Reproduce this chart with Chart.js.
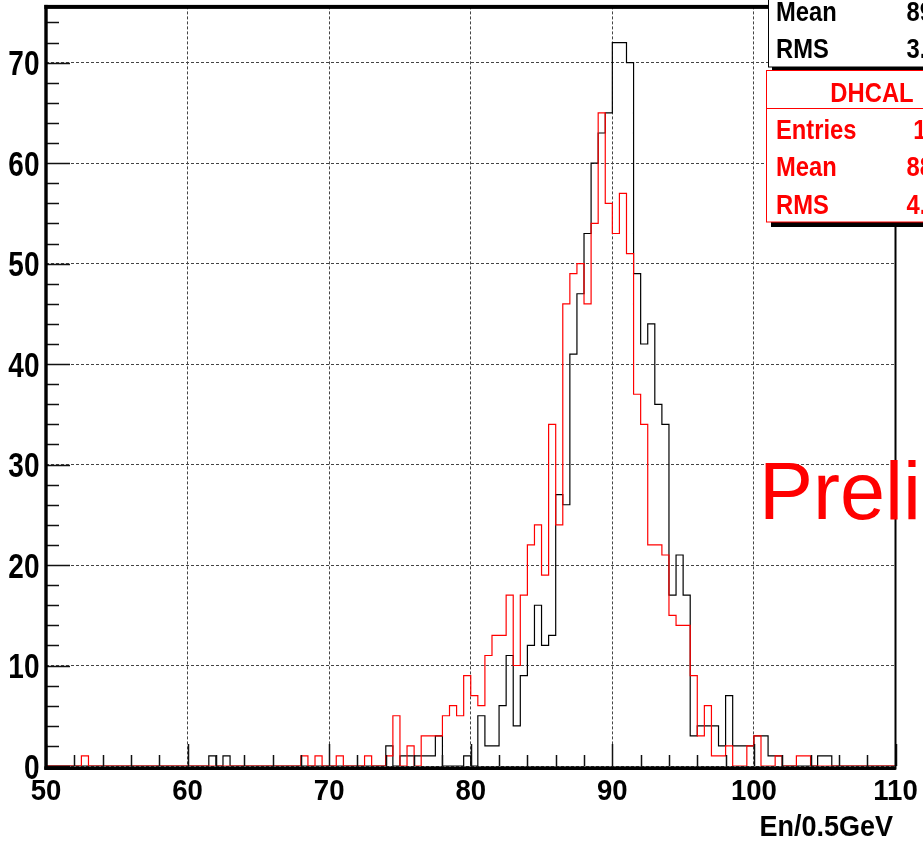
<!DOCTYPE html>
<html>
<head>
<meta charset="utf-8">
<title>En/0.5GeV</title>
<script src="https://cdn.jsdelivr.net/npm/chart.js@4.4.1/dist/chart.umd.min.js"></script>
<style>
  html, body { margin: 0; padding: 0; background: #fff; }
  #histo { display: block; }
</style>
</head>
<body>
<canvas id="histo" width="923" height="844"></canvas>
<script>
// binning: 120 bins of 0.5 from 50 to 110
const binStart = 50;
const binWidth = 0.5;
const xMin = 50;
const xMax = 110;
const yMax = 75.6;

const xTicks = [50, 60, 70, 80, 90, 100, 110];
const yTicks = [0, 10, 20, 30, 40, 50, 60, 70];
const xTitle = "En/0.5GeV";

// black histogram (reference run)
const refCounts = [
  0, 0, 0, 0, 0, 0, 0, 0, 0, 0, 0, 0, 0, 0, 0, 0, 0, 0, 0, 0,
  0, 0, 0, 1, 0, 1, 0, 0, 0, 0, 0, 0, 0, 0, 0, 0, 0, 0, 0, 0,
  0, 0, 0, 0, 0, 0, 0, 0, 2, 0, 1, 1, 1, 1, 1, 3, 0, 0, 0, 1,
  0, 5, 2, 2, 6, 11, 4, 9, 12, 16, 12, 13, 27, 26, 41, 47, 53, 60, 63, 65,
  72, 72, 70, 49, 42, 44, 36, 34, 17, 21, 17, 3, 4, 4, 4, 2, 7, 2, 2, 2,
  3, 3, 1, 1, 0, 0, 0, 0, 0, 1, 1, 0, 0, 0, 0, 0, 0, 0, 0, 0,
];

// red histogram (DHCAL)
const dhcalCounts = [
  0, 0, 0, 0, 0, 1, 0, 0, 0, 0, 0, 0, 0, 0, 0, 0, 0, 0, 0, 0,
  0, 0, 0, 0, 0, 0, 0, 0, 0, 0, 0, 0, 0, 0, 0, 0, 1, 0, 1, 0,
  0, 1, 0, 0, 0, 1, 0, 0, 1, 5, 0, 2, 0, 3, 3, 3, 5, 6, 5, 9,
  7, 6, 11, 13, 13, 17, 10, 17, 22, 24, 19, 34, 24, 46, 49, 50, 46, 54, 65, 56,
  53, 57, 51, 37, 34, 22, 22, 21, 15, 14, 14, 9, 3, 6, 1, 1, 2, 0, 0, 2,
  3, 0, 0, 1, 0, 0, 1, 1, 0, 0, 0, 0, 0, 0, 0, 0, 0, 0, 0, 0,
];

// stats box texts
const refStats = [["Mean", "89.35"], ["RMS", "3.284"]];
const dhcalTitle = "DHCAL";
const dhcalStats = [["Entries", "1000"], ["Mean", "88.37"], ["RMS", "4.612"]];

const sans = '"Liberation Sans", Arial, Helvetica, sans-serif';

// step points: left edge of every bin, plus the closing edge at 110
function toSteps(counts) {
  const pts = counts.map((c, i) => ({ x: binStart + i * binWidth, y: c }));
  pts.push({ x: binStart + counts.length * binWidth, y: counts[counts.length - 1] });
  return pts;
}

// Helvetica-style bold text squeezed horizontally
function narrowText(ctx, text, x, y, size, sx, align, weight) {
  ctx.save();
  ctx.font = (weight || "bold") + " " + size + "px " + sans;
  ctx.translate(x, y);
  ctx.scale(sx, 1);
  ctx.textAlign = align;
  ctx.textBaseline = "alphabetic";
  ctx.fillText(text, 0, 0);
  ctx.restore();
}

// frame, ticks, axis labels, stat boxes and the big label
const rootDecor = {
  id: "rootDecor",
  afterDraw(chart) {
    const { ctx, chartArea: area } = chart;
    const x = chart.scales.x;
    const y = chart.scales.y;
    ctx.save();

    // tick marks (major every 10, minor every 2)
    ctx.strokeStyle = "#111";
    ctx.lineWidth = 1.5;
    ctx.beginPath();
    for (let v = 0; v <= yMax; v += 2) {
      const py = Math.round(y.getPixelForValue(v)) + 0.5;
      const len = v % 10 === 0 ? 24 : 13;
      ctx.moveTo(area.left, py);
      ctx.lineTo(area.left + len, py);
    }
    for (let v = xMin; v <= xMax; v += 2) {
      const px = Math.round(x.getPixelForValue(v)) + 0.5;
      const len = v % 10 === 0 ? 22 : 11;
      ctx.moveTo(px, area.bottom);
      ctx.lineTo(px, area.bottom - len);
    }
    ctx.stroke();

    // frame
    ctx.fillStyle = "#000";
    ctx.fillRect(area.left - 1.7, area.top - 1.5, 3.4, area.bottom - area.top + 5);
    ctx.fillRect(area.left - 1.7, area.top - 1.5, area.right - area.left + 2, 4);
    ctx.fillRect(area.left - 1.7, area.bottom + 0.4, area.right - area.left + 2, 3.6);
    ctx.fillRect(area.right - 1, area.top - 1.5, 2, area.bottom - area.top + 5);

    // axis labels
    ctx.fillStyle = "#000";
    yTicks.forEach((v) => {
      narrowText(ctx, String(v), 39.5, y.getPixelForValue(v) + 12.5, 35, 0.8, "right");
    });
    xTicks.forEach((v) => {
      narrowText(ctx, String(v), x.getPixelForValue(v), 799.5, 29, 0.95, "center");
    });
    narrowText(ctx, xTitle, 893, 836, 30, 0.9, "right");

    // black stats box
    ctx.fillStyle = "#000";
    ctx.fillRect(772, -36, 212, 106);
    ctx.fillStyle = "#fff";
    ctx.fillRect(768, -40, 212, 107);
    ctx.strokeStyle = "#000";
    ctx.lineWidth = 1;
    ctx.strokeRect(768.5, -40, 212, 107);

    ctx.fillStyle = "#000";
    refStats.forEach(([label, val], i) => {
      const by = 21 + i * 36.6;
      narrowText(ctx, label, 776, by, 27, 0.88, "left");
      narrowText(ctx, val, 966, by, 27, 0.88, "right");
    });

    // red stats box
    ctx.fillStyle = "#000";
    ctx.fillRect(771, 74, 212, 153);
    ctx.fillStyle = "#fff";
    ctx.fillRect(766, 70, 212, 152);
    ctx.strokeStyle = "#ff0000";
    ctx.strokeRect(766.5, 70.5, 212, 151.5);
    ctx.beginPath();
    ctx.moveTo(766, 108.5);
    ctx.lineTo(980, 108.5);
    ctx.stroke();

    ctx.fillStyle = "#ff0000";
    narrowText(ctx, dhcalTitle, 872, 102, 28, 0.85, "center");
    dhcalStats.forEach(([label, val], i) => {
      const by = 138.5 + i * 37.5;
      narrowText(ctx, label, 776, by, 27, 0.88, "left");
      narrowText(ctx, val, 966, by, 27, 0.88, "right");
    });

    // preliminary stamp
    ctx.font = "81px " + sans;
    ctx.textAlign = "left";
    ctx.textBaseline = "alphabetic";
    ctx.fillStyle = "#ff0000";
    ctx.fillText("Preliminary", 759, 519);

    ctx.restore();
  },
};

new Chart(document.getElementById("histo"), {
  type: "line",
  data: {
    datasets: [
      {
        label: dhcalTitle,
        data: toSteps(dhcalCounts),
        borderColor: "#ff0000",
        borderWidth: 1.2,
        stepped: "before",
        pointRadius: 0,
        fill: false,
      },
      {
        label: "reference",
        data: toSteps(refCounts),
        borderColor: "#000000",
        borderWidth: 1.2,
        stepped: "before",
        pointRadius: 0,
        fill: false,
      },
    ],
  },
  options: {
    responsive: false,
    animation: false,
    devicePixelRatio: 1,
    layout: { padding: { top: 6.4, right: 27.5, left: 0, bottom: 0 } },
    plugins: {
      legend: { display: false },
      tooltip: { enabled: false },
    },
    scales: {
      x: {
        type: "linear",
        min: xMin,
        max: xMax,
        afterBuildTicks: (scale) => {
          scale.ticks = xTicks.map((v) => ({ value: v }));
        },
        afterFit: (scale) => {
          scale.height = 78;
        },
        ticks: { display: false },
        grid: { color: "#444", lineWidth: 1, drawTicks: false },
        border: { display: false, dash: [3, 2] },
      },
      y: {
        type: "linear",
        min: 0,
        max: yMax,
        afterBuildTicks: (scale) => {
          scale.ticks = yTicks.map((v) => ({ value: v }));
        },
        afterFit: (scale) => {
          scale.width = 46;
        },
        ticks: { display: false },
        grid: { color: "#444", lineWidth: 1, drawTicks: false },
        border: { display: false, dash: [3, 2] },
      },
    },
  },
  plugins: [rootDecor],
});
</script>
</body>
</html>
